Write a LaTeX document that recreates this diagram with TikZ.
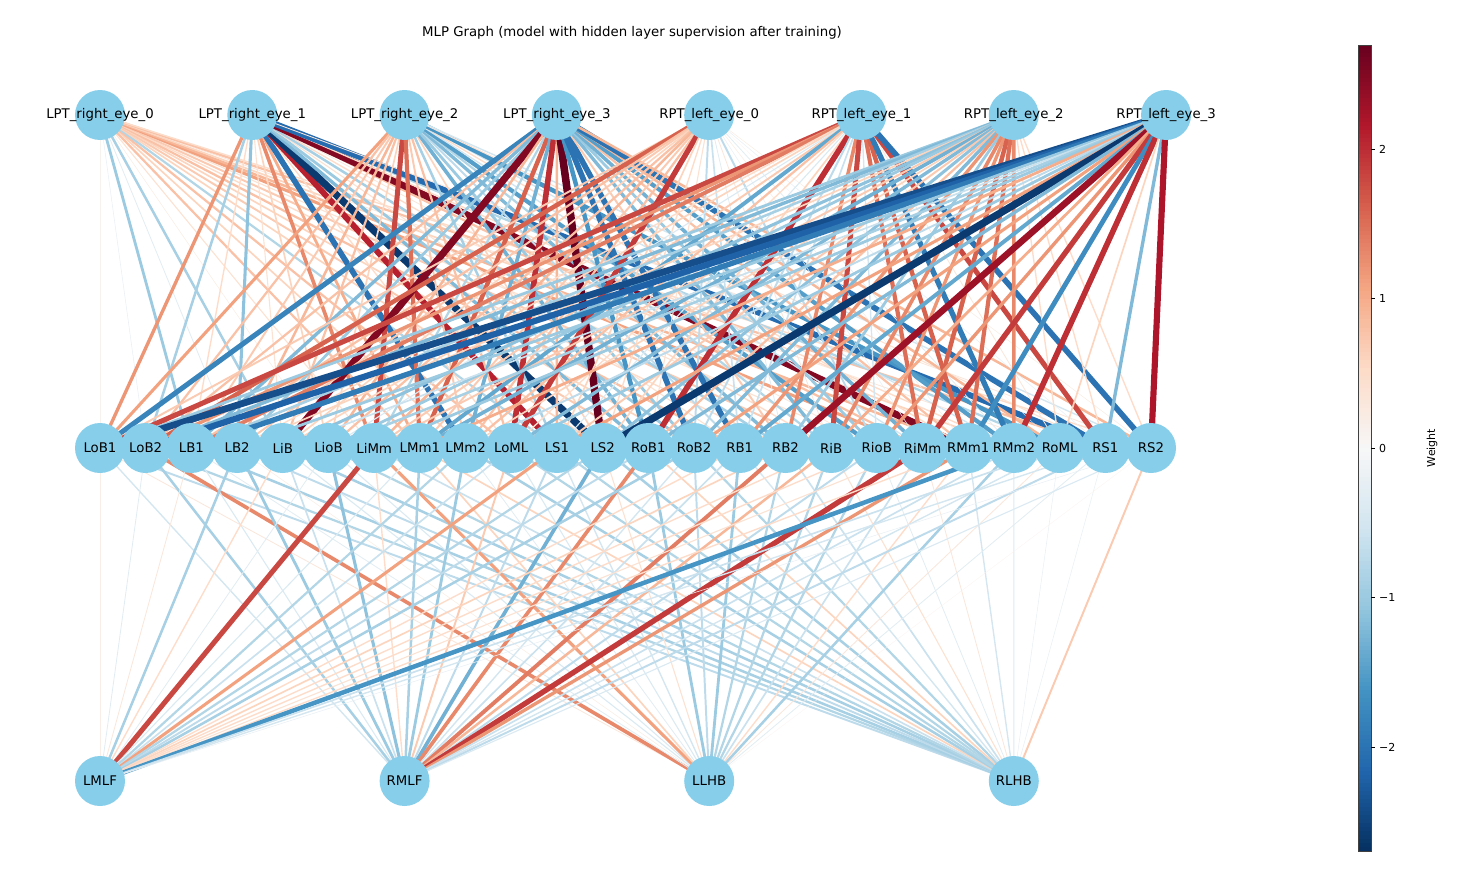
\documentclass[tikz,border=0pt]{standalone}
\usepackage{fontspec}
\setmainfont{DejaVu Sans}
\definecolor{cm0}{RGB}{5,48,97}
\definecolor{cm1}{RGB}{33,102,172}
\definecolor{cm2}{RGB}{67,147,195}
\definecolor{cm3}{RGB}{146,197,222}
\definecolor{cm4}{RGB}{209,229,240}
\definecolor{cm5}{RGB}{247,247,247}
\definecolor{cm6}{RGB}{253,219,199}
\definecolor{cm7}{RGB}{244,165,130}
\definecolor{cm8}{RGB}{214,96,77}
\definecolor{cm9}{RGB}{178,24,43}
\definecolor{cm10}{RGB}{103,0,31}
\definecolor{nodeblue}{RGB}{135,206,235}
\newcommand\setwcol[1]{%
  \pgfmathsetmacro\wtt{max(0,min(9.999,((#1)+2.7)/0.54))}%
  \pgfmathtruncatemacro\wci{floor(\wtt)}%
  \pgfmathtruncatemacro\wcj{\wci+1}%
  \pgfmathtruncatemacro\wcp{round(100*(\wtt-\wci))}%
  \colorlet{ec}{cm\wcj!\wcp!cm\wci}}
\pgfdeclarelayer{background}
\pgfsetlayers{background,main}
\tikzset{
  nn/.style={circle, fill=nodeblue, minimum size=50pt, inner sep=0pt},
  nlbl/.style={font=\fontsize{13.3}{15}\selectfont, inner sep=0pt},
  tick/.style={line width=0.6pt, black},
  ticklbl/.style={anchor=west, font=\fontsize{11}{13}\selectfont, inner sep=0pt}
}
\begin{document}
\begin{tikzpicture}[x=1pt,y=-1pt]
\useasboundingbox (0,0) rectangle (1482,878);
\node[font=\fontsize{13.3}{15}\selectfont] (title) at (632,33) {MLP Graph (model with hidden layer supervision after training)};
% input nodes
\foreach \t [count=\i from 0] in {LPT\_right\_eye\_0,LPT\_right\_eye\_1,LPT\_right\_eye\_2,LPT\_right\_eye\_3,RPT\_left\_eye\_0,RPT\_left\_eye\_1,RPT\_left\_eye\_2,RPT\_left\_eye\_3}
  \node[nn] (i\i) at ({100+152.29*\i},115) {};
% hidden nodes
\foreach \t [count=\j from 0] in {LoB1,LoB2,LB1,LB2,LiB,LioB,LiMm,LMm1,LMm2,LoML,LS1,LS2,RoB1,RoB2,RB1,RB2,RiB,RioB,RiMm,RMm1,RMm2,RoML,RS1,RS2}
  \node[nn] (h\j) at ({100+45.696*\j},448) {};
% output nodes
\foreach \t [count=\k from 0] in {LMLF,RMLF,LLHB,RLHB}
  \node[nn] (o\k) at ({100+304.6*\k},781) {};
% labels
\foreach \t [count=\i from 0] in {LPT\_right\_eye\_0,LPT\_right\_eye\_1,LPT\_right\_eye\_2,LPT\_right\_eye\_3,RPT\_left\_eye\_0,RPT\_left\_eye\_1,RPT\_left\_eye\_2,RPT\_left\_eye\_3}
  \node[nlbl] (li\i) at (i\i) {\t};
\foreach \t [count=\j from 0] in {LoB1,LoB2,LB1,LB2,LiB,LioB,LiMm,LMm1,LMm2,LoML,LS1,LS2,RoB1,RoB2,RB1,RB2,RiB,RioB,RiMm,RMm1,RMm2,RoML,RS1,RS2}
  \node[nlbl] (lh\j) at (h\j) {\t};
\foreach \t [count=\k from 0] in {LMLF,RMLF,LLHB,RLHB}
  \node[nlbl] (lo\k) at (o\k) {\t};
\begin{pgfonlayer}{background}
\foreach \row [count=\i from 0] in {
 {0.1,-0.2,-1.0,-0.3,-0.9,0.2,0.4,0.8,0.6,0.8,-0.8,0.6,0.7,0.6,0.8,0.5,0.7,0.4,1.1,0.9,0.6,0.3,0.8,0.5},
 {1.2,-0.9,0.5,-1.1,0.4,0.6,1.3,1.0,-2.0,0.5,2.1,-2.6,-1.2,-1.0,0.4,-0.9,0.5,0.3,0.8,2.5,0.5,-0.8,-2.1,0.3},
 {1.1,0.8,0.7,0.9,0.8,0.6,1.8,1.5,0.7,0.8,-0.9,0.6,-1.3,-1.0,-0.7,-1.2,-0.8,-1.5,-0.5,0.5,-0.5,-1.6,0.4,-0.5},
 {-1.8,0.8,-1.2,-1.0,2.5,0.9,-0.8,1.6,-1.3,2.0,0.9,2.7,-1.6,-2.0,-2.0,0.7,-1.2,-1.0,-1.3,0.8,-1.5,0.9,-2.0,0.9},
 {0.7,1.6,0.8,0.7,0.6,0.8,0.9,0.7,0.8,1.9,0.6,0.5,0.4,-0.7,-0.6,-0.3,0.3,-0.7,-0.2,0.2,-0.3,0.1,-0.2,0.2},
 {1.8,1.2,1.4,0.5,0.6,-0.4,0.7,-1.4,0.8,0.5,-0.4,0.6,2.0,-0.7,-0.6,1.3,1.8,-0.5,1.5,1.6,-1.9,0.3,1.8,-2.0},
 {-1.0,-1.2,-0.9,0.6,-1.1,-1.0,0.7,-1.3,0.6,-1.2,0.7,-1.1,0.8,-1.2,1.2,-1.0,1.3,1.2,1.6,1.5,1.3,0.5,0.5,0.5},
 {-2.4,-2.2,-1.9,-1.0,-0.6,-0.9,-1.0,1.0,-0.7,-1.0,1.1,-2.6,-1.2,1.1,-1.4,2.3,1.0,1.2,1.9,-1.7,2.0,0.6,-1.2,2.2}}
 {
  \foreach \w [count=\j from 0] in \row {
    \setwcol{\w}
    \pgfmathsetmacro\lw{2.8*abs(\w)}
    \draw[color=ec, line width=\lw pt] (i\i.center) -- (h\j.center);
  }
 }
\foreach \row [count=\j from 0] in {
 {0.2,-0.5,0.3,-0.7},{-0.3,-0.9,1.3,-0.8},{0.3,-0.4,-0.3,-0.9},{-0.9,-1.0,0.2,-0.7},
 {0.5,-0.6,-0.4,-0.9},{-0.3,-1.1,-0.4,-0.8},{1.8,0.5,1.1,-0.6},{-0.4,-0.9,0.6,0.6},
 {-0.8,-1.0,-0.3,-0.9},{-0.6,0.7,-0.4,-0.8},{1.1,-0.7,-0.5,-0.8},{-0.8,-1.3,0.4,-0.9},
 {-0.7,1.3,-1.0,0.6},{-0.9,-0.5,-0.7,-0.8},{0.5,-0.6,-1.0,-0.5},{0.6,1.4,-0.8,-0.6},
 {0.5,0.9,-0.8,0.4},{0.5,-0.7,-0.8,-0.3},{0.4,1.9,-0.6,0.3},{0.5,1.2,0.5,-0.5},
 {-1.6,-0.6,-0.9,-0.4},{-0.6,-0.5,0.3,-0.2},{-0.5,-0.7,-0.3,-0.2},{-0.2,-0.4,0.1,0.7}}
 {
  \foreach \w [count=\k from 0] in \row {
    \setwcol{\w}
    \pgfmathsetmacro\lw{2.8*abs(\w)}
    \draw[color=ec, line width=\lw pt] (h\j.center) -- (o\k.center);
  }
 }
\end{pgfonlayer}
% colorbar
\foreach \s in {0,...,199} {
  \pgfmathsetmacro\wv{-2.7+5.4*(\s+0.5)/200}
  \setwcol{\wv}
  \fill[ec] (1358,{851-4.03*\s+0.4}) rectangle (1371,{851-4.03*(\s+1)-0.4});
}
\draw[line width=0.8pt, black!75] (1358,45) rectangle (1371,851);
\foreach \v/\l in {2/2,1/1,0/0,-1/−1,-2/−2} {
  \coordinate (t\v) at (1371,{448-149.5*\v});
  \draw[tick] (t\v) -- ++(4,0);
  \node[ticklbl] at ([xshift=8pt]t\v) {\l};
}
\node[rotate=90, font=\fontsize{11}{13}\selectfont] (wlabel) at (1432,448) {Weight};
\end{tikzpicture}
\end{document}
